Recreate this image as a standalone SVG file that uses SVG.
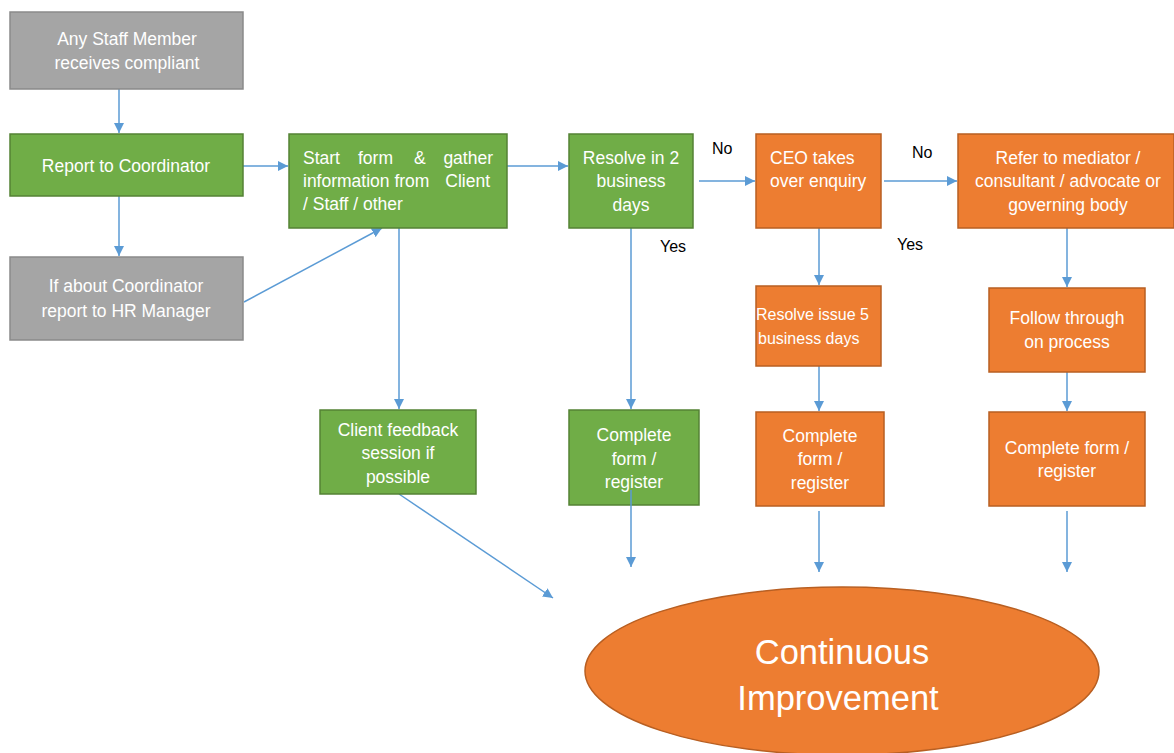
<svg xmlns="http://www.w3.org/2000/svg" width="1174" height="753" viewBox="0 0 1174 753">
<defs>
<marker id="ah" viewBox="0 0 10 10" refX="10" refY="5" markerWidth="10" markerHeight="10" markerUnits="userSpaceOnUse" orient="auto">
<path d="M0,0 L10,5 L0,10 z" fill="#5B9BD5"/>
</marker>
<style>
.gray{fill:#A5A5A5;stroke:#8A8A8A;stroke-width:1.5}
.green{fill:#70AD47;stroke:#548235;stroke-width:1.5}
.orange{fill:#ED7D31;stroke:#B85F22;stroke-width:1.5}
.t{font-family:"Liberation Sans",Arial,sans-serif;font-size:17.5px;fill:#FFFFFF}
.s{font-size:16px}
.c{text-anchor:middle}
.lbl{font-family:"Liberation Sans",Arial,sans-serif;font-size:16px;fill:#000000}
.cn{stroke:#5B9BD5;stroke-width:1.5;fill:none}
.big{font-family:"Liberation Sans",Arial,sans-serif;font-size:34.5px;fill:#FFFFFF;text-anchor:middle}
</style>
</defs>
<rect width="1174" height="753" fill="#FFFFFF"/>
<g id="connectors">
<line class="cn" x1="119" y1="89" x2="119" y2="133" marker-end="url(#ah)"/>
<line class="cn" x1="119" y1="196" x2="119" y2="256" marker-end="url(#ah)"/>
<line class="cn" x1="243" y1="166" x2="288" y2="166" marker-end="url(#ah)"/>
<line class="cn" x1="244" y1="302" x2="382" y2="228" marker-end="url(#ah)"/>
<line class="cn" x1="507" y1="166" x2="568" y2="166" marker-end="url(#ah)"/>
<line class="cn" x1="399" y1="228" x2="399" y2="409" marker-end="url(#ah)"/>
<line class="cn" x1="699" y1="181" x2="755" y2="181" marker-end="url(#ah)"/>
<line class="cn" x1="884" y1="181" x2="957" y2="181" marker-end="url(#ah)"/>
<line class="cn" x1="631" y1="228" x2="631" y2="409" marker-end="url(#ah)"/>
<line class="cn" x1="819" y1="228" x2="819" y2="285" marker-end="url(#ah)"/>
<line class="cn" x1="819" y1="366" x2="819" y2="411" marker-end="url(#ah)"/>
<line class="cn" x1="819" y1="511" x2="819" y2="572" marker-end="url(#ah)"/>
<line class="cn" x1="1067" y1="228" x2="1067" y2="287" marker-end="url(#ah)"/>
<line class="cn" x1="1067" y1="372" x2="1067" y2="411" marker-end="url(#ah)"/>
<line class="cn" x1="1067" y1="511" x2="1067" y2="572" marker-end="url(#ah)"/>
<line class="cn" x1="399" y1="494" x2="553" y2="598" marker-end="url(#ah)"/>
</g>
<g id="n1"><rect class="gray" x="10" y="12" width="233" height="77"/>
<text class="t c" x="127" y="45">Any Staff Member</text><text class="t c" x="127" y="69">receives compliant</text></g>
<g id="n2"><rect class="green" x="10" y="134" width="233" height="62"/>
<text class="t c" x="126" y="172">Report to Coordinator</text></g>
<g id="n3"><rect class="gray" x="10" y="257" width="233" height="83"/>
<text class="t c" x="126" y="292">If about Coordinator</text><text class="t c" x="126" y="317">report to HR Manager</text></g>
<g id="n4"><rect class="green" x="289" y="134" width="218" height="94"/>
<text class="t" x="303" y="164">Start</text><text class="t" x="358" y="164">form</text><text class="t" x="414" y="164">&amp;</text><text class="t" x="493" y="164" text-anchor="end">gather</text>
<text class="t" x="303" y="187">information from</text><text class="t" x="490" y="187" text-anchor="end">Client</text>
<text class="t" x="303" y="210">/ Staff / other</text></g>
<g id="n5"><rect class="green" x="569" y="134" width="124" height="94"/>
<text class="t c" x="631" y="164">Resolve in 2</text><text class="t c" x="631" y="187">business</text><text class="t c" x="631" y="211">days</text></g>
<g id="n6"><rect class="orange" x="756" y="134" width="125" height="94"/>
<text class="t" x="770" y="164">CEO takes</text><text class="t" x="770" y="187">over enquiry</text></g>
<g id="n7"><rect class="orange" x="958" y="134" width="216" height="94"/>
<text class="t c" x="1068" y="164">Refer to mediator /</text><text class="t c" x="1068" y="187">consultant / advocate or</text><text class="t c" x="1068" y="211">governing body</text></g>
<g id="n8"><rect class="green" x="320" y="410" width="156" height="84"/>
<text class="t c" x="398" y="436">Client feedback</text><text class="t c" x="398" y="459">session if</text><text class="t c" x="398" y="483">possible</text></g>
<g id="n9"><rect class="green" x="569" y="410" width="130" height="95"/>
<text class="t c" x="634" y="441">Complete</text><text class="t c" x="634" y="465">form /</text><text class="t c" x="634" y="488">register</text></g>
<line class="cn" x1="631" y1="490" x2="631" y2="567" marker-end="url(#ah)"/>
<g id="n10"><rect class="orange" x="756" y="286" width="125" height="80"/>
<text class="t s" x="756" y="320">Resolve issue 5</text><text class="t s" x="758" y="344">business days</text></g>
<g id="n11"><rect class="orange" x="756" y="412" width="128" height="94"/>
<text class="t c" x="820" y="442">Complete</text><text class="t c" x="820" y="465">form /</text><text class="t c" x="820" y="489">register</text></g>
<g id="n12"><rect class="orange" x="989" y="288" width="156" height="84"/>
<text class="t c" x="1067" y="324">Follow through</text><text class="t c" x="1067" y="348">on process</text></g>
<g id="n13"><rect class="orange" x="989" y="412" width="156" height="94"/>
<text class="t c" x="1067" y="454">Complete form /</text><text class="t c" x="1067" y="477">register</text></g>
<g id="n14"><ellipse cx="842" cy="671" rx="257" ry="84" fill="#ED7D31" stroke="#B85F22" stroke-width="1.5"/>
<text class="big" x="842" y="664">Continuous</text><text class="big" x="838" y="710">Improvement</text></g>
<g id="labels">
<text class="lbl" x="712" y="154">No</text>
<text class="lbl" x="912" y="158">No</text>
<text class="lbl" x="660" y="252">Yes</text>
<text class="lbl" x="897" y="250">Yes</text>
</g>
</svg>
